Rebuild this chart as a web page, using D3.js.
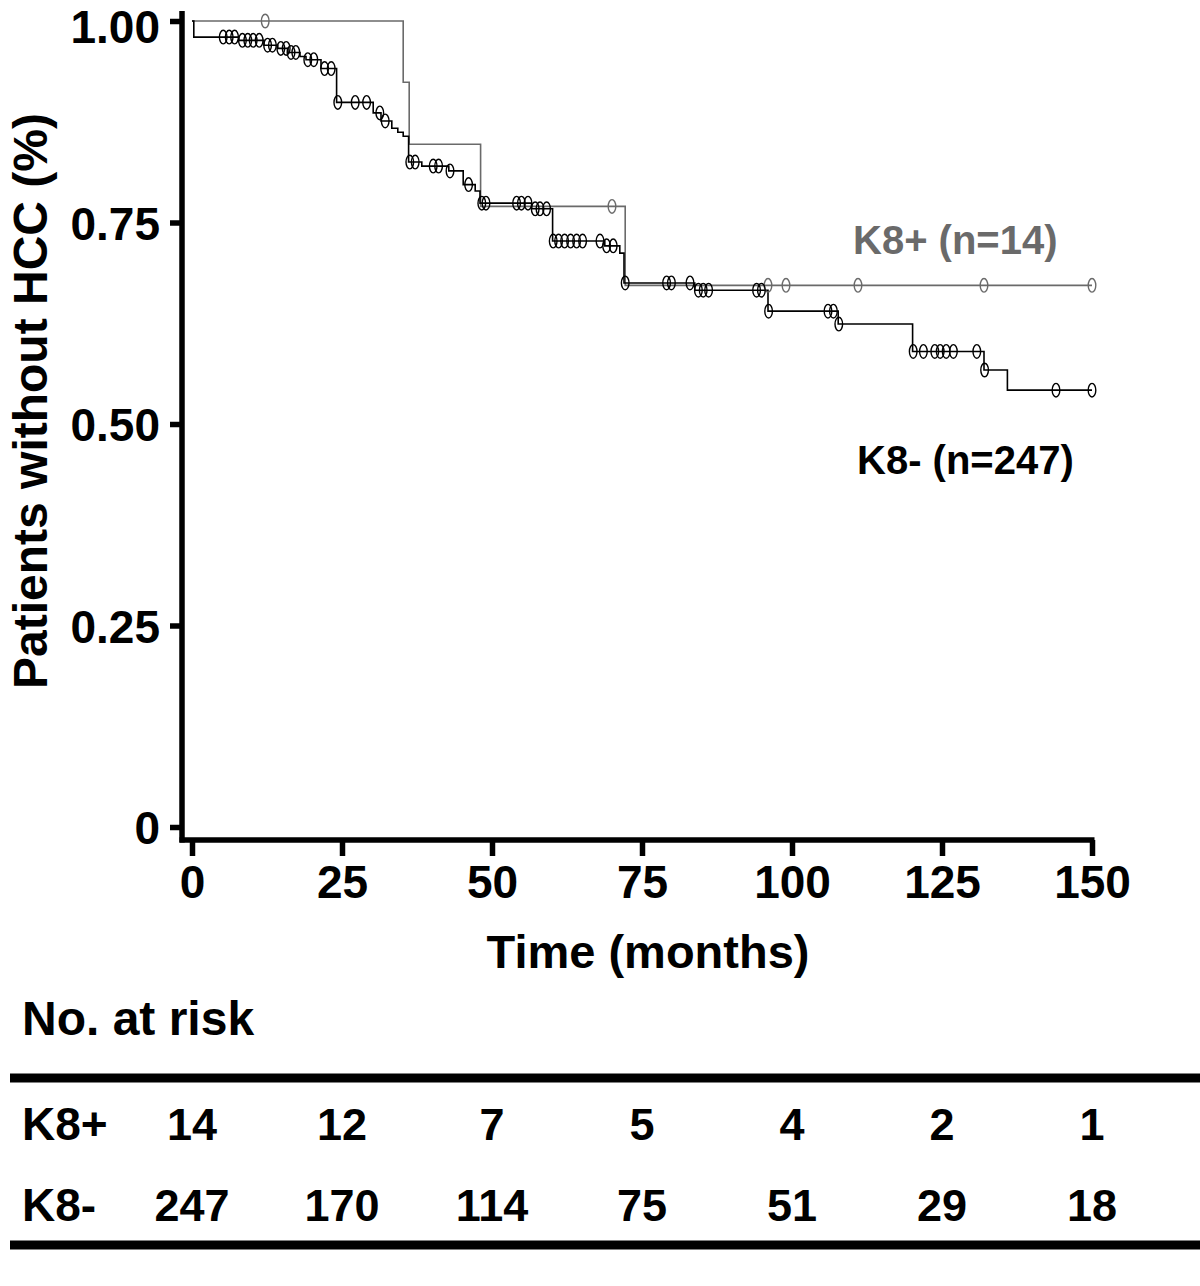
<!DOCTYPE html>
<html><head><meta charset="utf-8">
<script src="https://cdn.jsdelivr.net/npm/d3@7"></script>
<style>
html,body{margin:0;padding:0;background:#fff;}
text{font-family:"Liberation Sans",Arial,Helvetica,sans-serif;font-weight:bold;}
</style></head>
<body>
<svg id="chart" width="1200" height="1286"></svg>
<script>
// ---- data ----
const xTicks = [0, 25, 50, 75, 100, 125, 150];
const yTicks = [0, 0.25, 0.5, 0.75, 1];
const yTickLabels = ["0", "0.25", "0.50", "0.75", "1.00"];

const posTimes = [0, 35.2, 36.2, 48.1, 72.2, 150];
const posSurv  = [1, 0.924, 0.847, 0.770, 0.672, 0.672];
const posCensor = [12.2, 70, 96, 99, 111, 132, 150];

const negTimes = [0, 0.3, 7.8, 12, 14.3, 16, 18, 19, 21.5, 24.1, 30.2, 31.5, 33.3, 34.3, 35.2, 36.1, 38.3, 42.8, 45.2, 47.2, 48, 56.6, 60.1, 68.8, 71.3, 72.0, 83.8, 96, 107.7, 120.1, 132, 135.9, 150];
const negSurv  = [1, 0.98, 0.976, 0.970, 0.966, 0.961, 0.956, 0.952, 0.941, 0.899, 0.886, 0.876, 0.867, 0.862, 0.857, 0.825, 0.820, 0.814, 0.797, 0.789, 0.774, 0.767, 0.727, 0.721, 0.712, 0.675, 0.666, 0.640, 0.624, 0.590, 0.567, 0.542, 0.542];
const negCensor = [5.2, 6.2, 7.1, 8.4, 9.3, 10.2, 11.2, 12.6, 13.4, 14.8, 15.7, 16.5, 17.3, 19.3, 20.3, 22.1, 23.2, 24.3, 27.2, 29.1, 31.3, 32.2, 36.3, 37.2, 40.2, 41.1, 43, 46.1, 48.3, 49, 54.1, 54.9, 56, 57.2, 58, 59.1, 60.2, 61.1, 62.1, 63.1, 64.1, 65.1, 68, 69.1, 70.2, 72.2, 79.1, 79.9, 83, 84.4, 85.2, 86.1, 94.1, 94.9, 96.1, 106, 106.9, 107.8, 120.2, 121.9, 123.8, 124.7, 125.7, 126.9, 130.8, 132.1, 144, 150];

const seriesNames = ["K8+", "K8-"];
const seriesLabels = ["K8+ (n=14)", "K8- (n=247)"];
const riskTimes = [0, 25, 50, 75, 100, 125, 150];
const riskPos = [14, 12, 7, 5, 4, 2, 1];
const riskNeg = [247, 170, 114, 75, 51, 29, 18];

// ---- drawing ----
const svg = d3.select("#chart");
const x = d3.scaleLinear().domain([0, 150]).range([192, 1092]);
const y = d3.scaleLinear().domain([0, 1]).range([827, 21]);

const GRAY = "#6a6a6a";

function stepAt(times, surv, t) {
  let v = surv[0];
  for (let i = 0; i < times.length; i++) { if (times[i] <= t) v = surv[i]; }
  return v;
}

const line = d3.line().x(d => x(d[0])).y(d => y(d[1])).curve(d3.curveStepAfter);

const series = [
  {times: posTimes, surv: posSurv, censor: posCensor, color: GRAY},
  {times: negTimes, surv: negSurv, censor: negCensor, color: "#000"}
];

series.forEach(s => {
  svg.append("path")
    .attr("d", line(s.times.map((t, i) => [t, s.surv[i]])))
    .attr("fill", "none").attr("stroke", s.color).attr("stroke-width", 1.6);
});
series.forEach(s => {
  svg.append("g").selectAll("ellipse").data(s.censor).join("ellipse")
    .attr("cx", d => x(d)).attr("cy", d => y(stepAt(s.times, s.surv, d)))
    .attr("rx", 3.8).attr("ry", 6.8)
    .attr("fill", "none").attr("stroke", s.color).attr("stroke-width", 1.4);
});

// axes
const yAxisG = svg.append("g").attr("transform", "translate(182,0)")
  .call(d3.axisLeft(y).tickValues(yTicks).tickSize(12).tickPadding(10)
    .tickFormat((d, i) => yTickLabels[i]));
const xAxisG = svg.append("g").attr("transform", "translate(0,840)")
  .call(d3.axisBottom(x).tickValues(xTicks).tickSize(16).tickPadding(9));
[yAxisG, xAxisG].forEach(g => {
  g.select(".domain").remove();
  g.selectAll(".tick line").attr("stroke", "#000").attr("stroke-width", 5.5);
  g.selectAll(".tick text").attr("fill", "#000").style("font-size", "46px")
    .style("font-family", "'Liberation Sans', Arial, sans-serif").style("font-weight", "bold");
});
yAxisG.selectAll(".tick text").attr("dy", d => d === 1 ? "0.46em" : "0.36em");
svg.append("line").attr("x1", 182).attr("x2", 182).attr("y1", 11).attr("y2", 842.5)
  .attr("stroke", "#000").attr("stroke-width", 5.5);
svg.append("line").attr("x1", 179.5).attr("x2", 1094.5).attr("y1", 840).attr("y2", 840)
  .attr("stroke", "#000").attr("stroke-width", 5.5);

// axis titles
svg.append("text").attr("transform", "translate(47,401) rotate(-90)")
  .attr("text-anchor", "middle").style("font-size", "48px").text("Patients without HCC (%)");
svg.append("text").attr("x", 648).attr("y", 968).attr("text-anchor", "middle")
  .style("font-size", "47px").text("Time (months)");

// series labels
svg.append("text").attr("x", 853).attr("y", 254).style("font-size", "40px")
  .attr("fill", GRAY).text(seriesLabels[0]);
svg.append("text").attr("x", 857).attr("y", 474).style("font-size", "40px")
  .attr("fill", "#000").text(seriesLabels[1]);

// risk table
svg.append("text").attr("x", 22).attr("y", 1035).style("font-size", "48px").text("No. at risk");
svg.append("line").attr("x1", 10).attr("x2", 1200).attr("y1", 1078).attr("y2", 1078)
  .attr("stroke", "#000").attr("stroke-width", 9);
svg.append("line").attr("x1", 10).attr("x2", 1200).attr("y1", 1245).attr("y2", 1245)
  .attr("stroke", "#000").attr("stroke-width", 9);
const rows = [riskPos, riskNeg];
const rowY = [1140, 1221];
rows.forEach((r, ri) => {
  svg.append("text").attr("x", 22).attr("y", rowY[ri]).style("font-size", "46px").text(seriesNames[ri]);
  svg.append("g").selectAll("text").data(r).join("text")
    .attr("x", (d, i) => x(riskTimes[i])).attr("y", rowY[ri])
    .attr("text-anchor", "middle").style("font-size", "45px").text(d => d);
});
</script>
</body></html>
